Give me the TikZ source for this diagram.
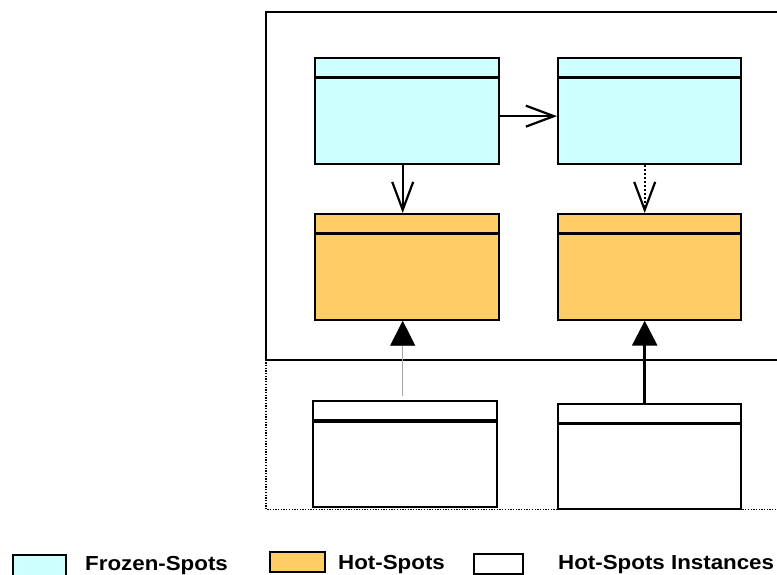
\documentclass[tikz,border=0pt]{standalone}
\usepackage{fontspec}
\setmainfont{Liberation Sans}[FakeStretch=1.1]
\usetikzlibrary{arrows.meta,positioning}
\definecolor{frozencyan}{RGB}{204,255,255}
\definecolor{hotorange}{RGB}{255,204,102}

\begin{document}
\begin{tikzpicture}[x=1pt, y=-1pt,
    classbox/.style={draw, line width=2pt, rectangle, minimum width=183.4pt, minimum height=105.7pt, inner sep=0pt,
      path picture={\draw[line width=3.2pt] ([yshift=-19.5pt]path picture bounding box.north west) -- ([yshift=-19.5pt]path picture bounding box.north east);}},
    frozen/.style={classbox, fill=frozencyan},
    hot/.style={classbox, fill=hotorange},
    instance/.style={classbox, fill=white},
    uses/.style={line width=2.2pt, -{Straight Barb[length=28pt, width=21pt]}},
    extends/.style={-{Triangle[length=25pt, width=25pt, color=black]}},
    legendbox/.style={draw, line width=2pt},
    legendtext/.style={anchor=base west, inner sep=0pt, font=\bfseries\fontsize{20.3}{24}\selectfont}]
    \useasboundingbox (0,0) rectangle (777,574);

    % framework and instance areas
    \draw[line width=2pt] (777,12) -- (266,12) -- (266,359.5) -- (777,359.5);
    \draw[line width=1.3pt, dash pattern=on 1.3pt off 1.4pt] (266,359.5) -- (266,509.5) -- (777,509.5);

    % classes
    \node[frozen, anchor=north west] (frozen1) at (314.3,57.3) {};
    \node[frozen, right=57.3pt of frozen1] (frozen2) {};
    \node[hot, below=48pt of frozen1] (hot1) {};
    \node[hot, below=48pt of frozen2] (hot2) {};
    \node[instance, below=79.7pt of hot1, xshift=-2pt] (inst1) {};
    \node[instance, below=82pt of hot2] (inst2) {};

    % relations
    \draw[uses] ([yshift=-5pt]frozen1.east) -- ([yshift=-5pt]frozen2.west);
    \draw[uses] ([xshift=-4.3pt]frozen1.south) -- ([xshift=-4.3pt]hot1.north);
    \draw[uses, dash pattern=on 2pt off 2pt] ([xshift=-5pt]frozen2.south) -- ([xshift=-5pt]hot2.north);
    \draw[extends, gray!70, line width=0.8pt, shorten <=4.5pt] ([xshift=-2.3pt]inst1.north) -- ([xshift=-4.3pt]hot1.south);
    \draw[extends, line width=2.8pt] ([xshift=-5pt]inst2.north) -- ([xshift=-5pt]hot2.south);

    % legend
    \node[legendbox, fill=frozencyan, minimum width=53.3pt, minimum height=30pt, anchor=north west] (keyfrozen) at (11.7,554) {};
    \node[legendtext] (txtfrozen) at (85,570) {Frozen-Spots};
    \node[legendbox, fill=hotorange, minimum width=55pt, minimum height=20pt, anchor=north west] (keyhot) at (269.3,551) {};
    \node[legendtext] (txthot) at (338,569) {Hot-Spots};
    \node[legendbox, fill=white, minimum width=49.3pt, minimum height=20.5pt, anchor=north west] (keyinst) at (472.7,552.7) {};
    \node[legendtext] (txtinst) at (558,569) {Hot-Spots Instances};
\end{tikzpicture}
\end{document}
